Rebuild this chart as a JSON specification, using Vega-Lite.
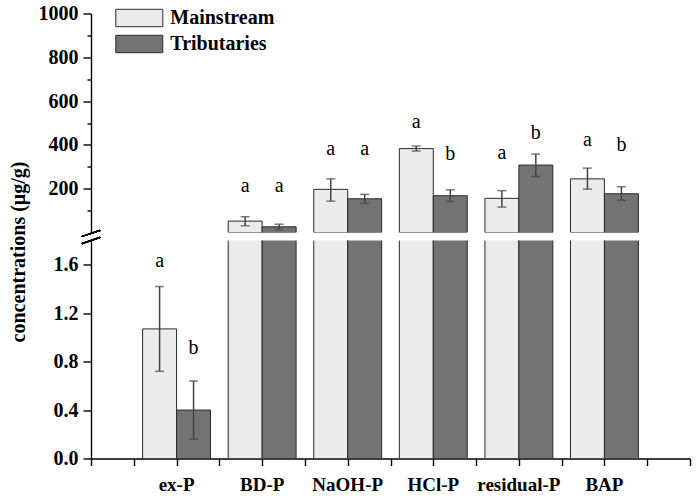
{
  "$schema": "https://vega.github.io/schema/vega-lite/v6.json",
  "padding": {"left": 7, "top": 3.5, "right": 2, "bottom": 2},
  "bounds": "flush",
  "config": {
    "view": {"stroke": null},
    "font": "Liberation Serif",
    "axis": {
      "grid": false, "labelOverlap": false,
      "labelFont": "Liberation Serif", "labelFontWeight": "bold", "labelFontSize": 20, "labelColor": "#000",
      "titleFont": "Liberation Serif", "titleFontWeight": "bold", "titleFontSize": 20, "titleColor": "#000",
      "domainColor": "#000", "domainWidth": 1.4, "tickColor": "#000", "tickWidth": 1.4
    }
  },
  "data": {"values": [
    {"cat": "ex-P", "series": "Mainstream", "value": 1.07, "lo": 0.72, "hi": 1.42, "letter": "a", "ly": 1.583},
    {"cat": "ex-P", "series": "Tributaries", "value": 0.40, "lo": 0.16, "hi": 0.64, "letter": "b", "ly": 0.859},
    {"cat": "BD-P", "series": "Mainstream", "value": 52, "lo": 31, "hi": 72, "letter": "a", "ly": 184},
    {"cat": "BD-P", "series": "Tributaries", "value": 26, "lo": 14, "hi": 38, "letter": "a", "ly": 184},
    {"cat": "NaOH-P", "series": "Mainstream", "value": 197, "lo": 143, "hi": 245, "letter": "a", "ly": 352},
    {"cat": "NaOH-P", "series": "Tributaries", "value": 154, "lo": 133, "hi": 174, "letter": "a", "ly": 352},
    {"cat": "HCl-P", "series": "Mainstream", "value": 383, "lo": 372, "hi": 395, "letter": "a", "ly": 477},
    {"cat": "HCl-P", "series": "Tributaries", "value": 168, "lo": 142, "hi": 195, "letter": "b", "ly": 331},
    {"cat": "residual-P", "series": "Mainstream", "value": 156, "lo": 116, "hi": 191, "letter": "a", "ly": 337},
    {"cat": "residual-P", "series": "Tributaries", "value": 308, "lo": 256, "hi": 358, "letter": "b", "ly": 429},
    {"cat": "BAP", "series": "Mainstream", "value": 245, "lo": 198, "hi": 294, "letter": "a", "ly": 395},
    {"cat": "BAP", "series": "Tributaries", "value": 177, "lo": 147, "hi": 209, "letter": "b", "ly": 372}
  ]},
  "spacing": 8,
  "resolve": {"legend": {"color": "independent"}},
  "vconcat": [
    {
      "width": 599, "height": 219,
      "transform": [{"filter": "datum.cat !== 'ex-P'"}],
      "resolve": {"axis": {"y": "independent"}},
      "encoding": {
        "x": {"field": "cat", "type": "nominal", "scale": {"domain": ["ex-P", "BD-P", "NaOH-P", "HCl-P", "residual-P", "BAP"], "paddingInner": 0, "paddingOuter": 0.5}, "axis": null},
        "xOffset": {"field": "series", "type": "nominal", "scale": {"domain": ["Mainstream", "Tributaries"], "paddingInner": 0, "paddingOuter": 0.26}}
      },
      "layer": [
        {
          "mark": {"type": "bar", "clip": true, "stroke": "#2a2a2a", "strokeWidth": 1, "opacity": 1},
          "encoding": {
            "y": {"field": "value", "type": "quantitative", "scale": {"domain": [0, 1000], "nice": false, "zero": false},
              "axis": {"orient": "left", "title": null, "values": [200, 400, 600, 800, 1000], "format": "d", "labelOverlap": false,
                "tickSize": 8, "labelPadding": 5}},
            "color": {"field": "series", "type": "nominal",
              "scale": {"domain": ["Mainstream", "Tributaries"], "range": ["#ebebeb", "#737373"]},
              "legend": {"orient": "none", "legendX": 38.3, "legendY": -5.5, "title": null, "padding": 0,
                "symbolType": "M-2.7,-1L2.7,-1L2.7,1L-2.7,1Z", "symbolSize": 303,
                "symbolStrokeColor": "#2a2a2a", "symbolStrokeWidth": 1, "symbolOpacity": 1,
                "labelFont": "Liberation Serif", "labelFontWeight": "bold", "labelFontSize": 20, "labelColor": "#000",
                "labelOffset": 21, "rowPadding": 4}}
          }
        },
        {
          "mark": {"type": "rule", "opacity": 0},
          "encoding": {"y": {"datum": 500, "type": "quantitative",
            "axis": {"orient": "left", "title": null, "values": [100, 300, 500, 700, 900], "labels": false, "domain": false, "tickSize": 4}}}
        },
        {
          "mark": {"type": "rule", "color": "#444", "strokeWidth": 1.5},
          "encoding": {"y": {"field": "lo", "type": "quantitative", "axis": null}, "y2": {"field": "hi"}}
        },
        {
          "mark": {"type": "tick", "color": "#444", "thickness": 1.5, "size": 9},
          "encoding": {"y": {"field": "lo", "type": "quantitative", "axis": null}}
        },
        {
          "mark": {"type": "tick", "color": "#444", "thickness": 1.5, "size": 9},
          "encoding": {"y": {"field": "hi", "type": "quantitative", "axis": null}}
        },
        {
          "mark": {"type": "text", "font": "Liberation Serif", "fontSize": 20, "baseline": "alphabetic", "color": "#000"},
          "encoding": {"y": {"field": "ly", "type": "quantitative", "axis": null}, "text": {"field": "letter"}}
        }
      ]
    },
    {
      "width": 599, "height": 218,
      "resolve": {"scale": {"x": "independent"}, "axis": {"x": "independent"}},
      "layer": [
        {
          "encoding": {
            "x": {"field": "cat", "type": "nominal", "scale": {"domain": ["ex-P", "BD-P", "NaOH-P", "HCl-P", "residual-P", "BAP"], "paddingInner": 0, "paddingOuter": 0.5},
              "axis": {"orient": "bottom", "title": null, "ticks": false, "domain": false, "labelAngle": 0, "labelPadding": 17, "labelFontSize": 19}},
            "xOffset": {"field": "series", "type": "nominal", "scale": {"domain": ["Mainstream", "Tributaries"], "paddingInner": 0, "paddingOuter": 0.26}}
          },
          "layer": [
            {
              "mark": {"type": "bar", "clip": true, "stroke": "#2a2a2a", "strokeWidth": 1, "opacity": 1},
              "encoding": {
                "y": {"field": "value", "type": "quantitative", "scale": {"domain": [0, 1.8], "nice": false, "zero": false},
                  "axis": {"title": "concentrations (μg/g)", "values": [0, 0.2, 0.4, 0.6, 0.8, 1.0, 1.2, 1.4, 1.6], "labelOverlap": false,
                    "labelExpr": "round(datum.value*10) % 4 === 0 ? format(datum.value, '.1f') : ''",
                    "tickSize": {"condition": {"test": "round(datum.value*10) % 4 === 0", "value": 8}, "value": 4},
                    "labelPadding": 5, "titleX": -73, "titleY": 11, "titleBaseline": "middle", "titleAlign": "center"}},
                "color": {"field": "series", "type": "nominal", "scale": {"domain": ["Mainstream", "Tributaries"], "range": ["#ebebeb", "#737373"]}, "legend": null}
              }
            },
            {
              "transform": [{"filter": "datum.cat === 'ex-P'"}],
              "mark": {"type": "rule", "color": "#444", "strokeWidth": 1.5},
              "encoding": {"y": {"field": "lo", "type": "quantitative"}, "y2": {"field": "hi"}}
            },
            {
              "transform": [{"filter": "datum.cat === 'ex-P'"}],
              "mark": {"type": "tick", "color": "#444", "thickness": 1.5, "size": 9},
              "encoding": {"y": {"field": "lo", "type": "quantitative"}}
            },
            {
              "transform": [{"filter": "datum.cat === 'ex-P'"}],
              "mark": {"type": "tick", "color": "#444", "thickness": 1.5, "size": 9},
              "encoding": {"y": {"field": "hi", "type": "quantitative"}}
            },
            {
              "transform": [{"filter": "datum.cat === 'ex-P'"}],
              "mark": {"type": "text", "font": "Liberation Serif", "fontSize": 20, "baseline": "alphabetic", "color": "#000"},
              "encoding": {"y": {"field": "ly", "type": "quantitative"}, "text": {"field": "letter"}}
            }
          ]
        },
        {
          "layer": [
            {
              "mark": {"type": "rule", "opacity": 0},
              "encoding": {"x": {"datum": 0, "type": "quantitative", "scale": {"domain": [0, 7], "nice": false, "zero": false},
                "axis": {"orient": "bottom", "title": null, "labels": false, "values": [0, 0.5, 1, 1.5, 2, 2.5, 3, 3.5, 4, 4.5, 5, 5.5, 6, 6.5, 7], "tickSize": 7, "domain": true}}}
            },
            {
              "mark": {"type": "rule", "color": "#000", "strokeWidth": 1.3},
              "encoding": {"x": {"datum": -0.107, "type": "quantitative"}, "x2": {"datum": 0.107},
                "y": {"datum": 1.833, "type": "quantitative"}, "y2": {"datum": 1.883}}
            },
            {
              "mark": {"type": "rule", "color": "#000", "strokeWidth": 1.3},
              "encoding": {"x": {"datum": -0.107, "type": "quantitative"}, "x2": {"datum": 0.107},
                "y": {"datum": 1.775, "type": "quantitative"}, "y2": {"datum": 1.825}}
            }
          ]
        }
      ]
    }
  ]
}
